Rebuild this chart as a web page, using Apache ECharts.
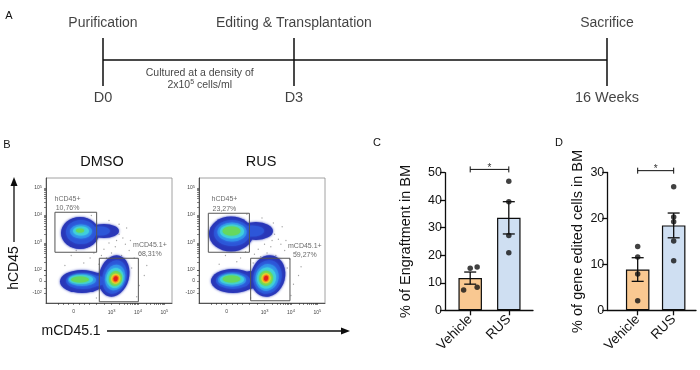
<!DOCTYPE html>
<html><head><meta charset="utf-8">
<script src="https://cdn.jsdelivr.net/npm/echarts@6/dist/echarts.min.js"></script>
<style>html,body{margin:0;padding:0;background:#fff}#c{width:700px;height:370px}</style>
</head><body><div id="c"></div>
<script>
// ---------- Panel A: timeline ----------
const timelineEvents = ['Purification', 'Editing & Transplantation', 'Sacrifice'];
const timelinePoints = ['D0', 'D3', '16 Weeks'];
const timelinePos = [0, 3, 7.92];          // schematic positions along the line
const cultureNoteLine1 = 'Cultured at a density of';
const cultureNoteBase = '2x10', cultureNoteExp = '5', cultureNoteUnit = ' cells/ml';

// ---------- Panel B: flow cytometry ----------
const flowConditions = ['DMSO', 'RUS'];
const flowXAxisTitle = 'mCD45.1';
const flowYAxisTitle = 'hCD45';
const flowXTickLabels = ['0', '10^3', '10^4', '10^5'];
const flowXTickPos = [22, 52, 73, 94];
const flowYTickLabels = ['-10^2', '0', '10^2', '10^3', '10^4', '10^5'];
const flowYTickPos = [8, 17.8, 26.4, 48.2, 70.4, 92];
const gateNames = ['hCD45+', 'mCD45.1+'];
const dmsoGatePct = ['10,76%', '68,31%'];
const rusGatePct = ['23,27%', '59,27%'];
// gates: [x1, y1, x2, y2] in plot units
const dmsoGates = [[7.1, 40.6, 40.2, 72.6], [42.3, 1.0, 73.3, 35.8]];
const rusGates = [[7.4, 40.6, 40.0, 71.8], [41.0, 1.8, 72.2, 35.8]];
const dmsoGateLabelPos = [[17.1, 79.4], [82.5, 42.6]];
const rusGateLabelPos = [[20.2, 79.0], [84.0, 41.8]];
// density contours: [cx, cy, rx, ry, rotationDeg, level]
const dmsoDensity = [
  [27.0,56.0,15.1,12.8,0,0],[46.0,57.6,11.9,5.6,0,0],[27.8,56.8,11.9,9.6,0,1],[42.9,57.6,7.9,3.6,0,1],
  [27.8,57.2,8.7,5.6,0,2],[27.8,57.6,6.3,3.6,0,3],[27.0,58.0,3.2,1.6,0,4],
  [28.6,17.2,17.5,9.2,0,0],[41.3,17.6,7.9,6.4,0,0],[29.4,17.6,13.5,6.4,0,1],[40.5,17.6,6.3,4.0,0,1],
  [28.6,18.4,11.1,4.8,0,2],[27.8,18.8,9.5,3.6,0,3],[27.0,18.8,7.1,2.4,0,4],
  [54.0,21.6,11.9,16.8,-15,0],[54.4,20.8,9.5,13.6,-15,1],[54.8,20.4,7.9,10.4,-15,2],[54.8,20.0,6.7,8.0,-15,3],
  [55.2,19.6,5.2,6.0,-15,4],[55.3,19.4,3.6,4.0,-15,5],[55.3,19.4,2.4,2.8,-15,6],[55.3,19.4,1.6,2.0,-15,7]
];
const rusDensity = [
  [25.4,55.2,17.5,14.0,0,0],[45.2,57.6,13.5,7.2,0,0],[26.2,56.0,14.3,10.4,0,1],[42.1,57.6,9.5,4.4,0,1],
  [26.2,56.8,11.5,7.6,0,2],[26.2,57.2,9.5,5.6,0,3],[25.8,57.6,7.1,3.6,0,4],
  [27.0,17.6,17.5,9.6,0,0],[40.5,18.4,6.3,7.2,0,0],[27.0,18.0,13.5,6.8,0,1],
  [26.2,18.4,11.1,5.2,0,2],[26.2,18.8,9.5,4.0,0,3],[25.8,19.2,7.1,2.8,0,4],
  [54.8,21.6,13.5,16.8,-15,0],[54.4,20.8,11.1,13.6,-15,1],[54.0,20.4,9.1,10.8,-15,2],[53.6,20.0,7.5,8.4,-15,3],
  [53.2,19.8,5.6,6.0,-15,4],[53.2,19.8,3.6,4.0,-15,5],[53.2,19.8,2.4,2.8,-15,6],[53.2,19.8,1.6,2.0,-15,7]
];
const dmsoEvents = [[58,55],[61,52],[50,48],[46,43],[55,45],[63,47],[52,40],[66,42],[60,38],[70,36],[48,36],[44,38],
  [38,40],[35,36],[20,38],[24,42],[30,32],[15,30],[68,28],[74,14],[78,22],[72,5],[40,4],[64,60],[58,63],[50,66],
  [36,70],[45,27],[42,31],[62,33],[80,30],[76,40],[56,50],[67,50]];
const rusEvents = [[60,55],[63,51],[52,47],[47,43],[57,45],[65,47],[54,40],[68,42],[61,38],[72,35],[49,37],[44,39],
  [37,41],[33,36],[21,38],[26,43],[30,33],[16,31],[70,28],[75,15],[79,22],[73,6],[41,4],[66,61],[59,64],[50,68],
  [38,71],[46,28],[43,32],[63,33],[81,29],[77,41],[58,50],[69,50]];

// ---------- Panels C & D ----------
const groups = ['Vehicle', 'RUS'];
const engraftTitle = '% of Engraftment in BM';
const engraftVehicle = [15.3, 15.7, 7.4, 8.4];
const engraftVehicleJitter = [0, 0.18, -0.17, 0.18];
const engraftRUS = [46.9, 39.4, 27.2, 20.9];
const engraftRUSJitter = [0, 0, 0, 0];
const engraftMax = 50;
const engraftSigY = 51.2;
const editedTitle = '% of gene edited cells in BM';
const editedVehicle = [13.9, 11.6, 7.9, 2.1];
const editedVehicleJitter = [0, 0, 0, 0];
const editedRUS = [26.9, 20.3, 19.3, 15.1, 10.8];
const editedRUSJitter = [0, 0, 0, 0, 0];
const editedMax = 30;
const editedSigY = 30.4;
const sigMark = '*';
const panelLetters = ['A', 'B', 'C', 'D'];

// ---------- styling ----------
const FONT = '"Liberation Sans", Arial, Helvetica, sans-serif';
const INK = '#0d0d0d';
const TXT = '#111';
const densityColors = ['#2a37b8', '#2d56d8', '#3290ea', '#3fcfe0', '#66d85e', '#e6e22e', '#f7931e', '#e3201b'];
const barColors = ['#F9C891', '#CFDFF2'];

const mean = a => a.reduce((s, v) => s + v, 0) / a.length;
const sem = a => { const m = mean(a); return Math.sqrt(a.reduce((s, v) => s + (v - m) * (v - m), 0) / (a.length - 1) / a.length); };

function supFmt(str) {
  const i = str.indexOf('^');
  return i < 0 ? str : str.slice(0, i) + '{s|' + str.slice(i + 1) + '}';
}
function logTicks(majors) {
  const out = majors.slice();
  for (let i = 0; i + 1 < majors.length; i++) {
    const a = majors[i], b = majors[i + 1];
    for (let k = 2; k <= 9; k++) out.push(a + (b - a) * Math.log10(k));
  }
  return out;
}

const chart = echarts.init(document.getElementById('c'), null, { renderer: 'canvas', width: 700, height: 370 });

function flowAxes(gridIndex) {
  const xMaj = flowXTickPos.slice(1);
  const yMaj = flowYTickPos.slice(2);
  return {
    x: {
      type: 'value', gridIndex, min: 0, max: 100,
      axisLine: { show: true, onZero: false, lineStyle: { color: '#333', width: 0.8 } },
      axisTick: { show: true, length: 2, customValues: logTicks(xMaj).concat([10, 14, 18, 22, 26, 30, 34, 40, 46]), lineStyle: { color: '#333', width: 0.6 } },
      axisLabel: {
        show: true, customValues: flowXTickPos, margin: 6, fontSize: 5, color: '#444', fontFamily: FONT,
        formatter: v => supFmt(flowXTickLabels[flowXTickPos.indexOf(v)] || ''),
        rich: { s: { fontSize: 4, color: '#444', padding: [0, 0, 3, 0] } }
      },
      splitLine: { show: false }
    },
    y: {
      type: 'value', gridIndex, min: 0, max: 100,
      axisLine: { show: true, onZero: false, lineStyle: { color: '#333', width: 0.8 } },
      axisTick: { show: true, length: 2, customValues: logTicks(yMaj).concat([8, 12, 17.8, 22, 26.4]), lineStyle: { color: '#333', width: 0.6 } },
      axisLabel: {
        show: true, customValues: flowYTickPos, margin: 4, fontSize: 5, color: '#444', fontFamily: FONT,
        formatter: v => supFmt(flowYTickLabels[flowYTickPos.indexOf(v)] || ''),
        rich: { s: { fontSize: 4, color: '#444', padding: [0, 0, 3, 0] } }
      },
      splitLine: { show: false }
    }
  };
}

function renderEllipse(params, api) {
  const c = api.coord([api.value(0), api.value(1)]);
  const s = api.size([api.value(2), api.value(3)]);
  const col = densityColors[api.value(5)];
  return {
    type: 'circle', shape: { cx: 0, cy: 0, r: 1 },
    x: c[0], y: c[1], scaleX: s[0], scaleY: s[1],
    rotation: api.value(4) * Math.PI / 180,
    style: { fill: col, shadowBlur: 2.5, shadowColor: col }
  };
}

function flowSeries(idx, density, events, gates, labelPos, pct) {
  const sorted = density.slice().sort((a, b) => a[5] - b[5]);
  return [
    { type: 'custom', xAxisIndex: idx, yAxisIndex: idx, z: 2, data: sorted, renderItem: renderEllipse, silent: true, clip: true },
    {
      type: 'scatter', xAxisIndex: idx, yAxisIndex: idx, z: 1, data: events, symbolSize: 1.3,
      itemStyle: { color: '#8c8c8c' }, silent: true,
      markArea: {
        silent: true, z: 5,
        itemStyle: { color: 'rgba(0,0,0,0)', borderColor: '#555', borderWidth: 1 },
        data: gates.map(g => [{ coord: [g[0], g[1]] }, { coord: [g[2], g[3]] }])
      }
    },
    {
      type: 'scatter', xAxisIndex: idx, yAxisIndex: idx, z: 6, symbolSize: 0, silent: true,
      data: labelPos.map((p, i) => ({ value: p, name: gateNames[i] + '\n' + pct[i] })),
      label: { show: true, position: 'inside', formatter: p => p.name, fontSize: 7, lineHeight: 9.5, color: '#444', fontFamily: FONT, align: 'center' }
    }
  ];
}

function barAxes(gridIndex, xmin, xmax, ymax, title, nameGap) {
  return {
    x: {
      type: 'value', gridIndex, min: xmin, max: xmax,
      axisLine: { show: true, onZero: false, lineStyle: { color: INK, width: 1.3 } },
      axisTick: { show: true, customValues: [1, 2], length: 5, lineStyle: { color: INK, width: 1.3 } },
      axisLabel: { show: true, customValues: [1, 2], formatter: v => groups[Math.round(v) - 1], rotate: 45, margin: 7, fontSize: 13.5, color: TXT, fontFamily: FONT },
      splitLine: { show: false }
    },
    y: {
      type: 'value', gridIndex, min: 0, max: ymax, interval: 10,
      name: title, nameLocation: 'middle', nameGap, nameRotate: 90, nameMoveOverlap: false,
      nameTextStyle: { fontSize: 14.5, color: TXT, fontFamily: FONT },
      axisLine: { show: true, onZero: false, lineStyle: { color: INK, width: 1.3 } },
      axisTick: { show: true, length: 5, lineStyle: { color: INK, width: 1.3 } },
      axisLabel: { show: true, margin: 3, fontSize: 12.5, color: TXT, fontFamily: FONT },
      splitLine: { show: false }
    }
  };
}

function renderErr(params, api) {
  const x = api.value(0), lo = api.value(1), hi = api.value(2);
  const p1 = api.coord([x, lo]), p2 = api.coord([x, hi]);
  const cap = 6, st = { stroke: INK, lineWidth: 1.3 };
  return {
    type: 'group', children: [
      { type: 'line', shape: { x1: p1[0], y1: p1[1], x2: p2[0], y2: p2[1] }, style: st },
      { type: 'line', shape: { x1: p1[0] - cap, y1: p1[1], x2: p1[0] + cap, y2: p1[1] }, style: st },
      { type: 'line', shape: { x1: p2[0] - cap, y1: p2[1], x2: p2[0] + cap, y2: p2[1] }, style: st }
    ]
  };
}
function renderSig(params, api) {
  const p1 = api.coord([api.value(0), api.value(2)]), p2 = api.coord([api.value(1), api.value(2)]);
  const st = { stroke: INK, lineWidth: 1 };
  return {
    type: 'group', children: [
      { type: 'line', shape: { x1: p1[0], y1: p1[1], x2: p2[0], y2: p2[1] }, style: st },
      { type: 'line', shape: { x1: p1[0], y1: p1[1] - 3, x2: p1[0], y2: p1[1] + 3 }, style: st },
      { type: 'line', shape: { x1: p2[0], y1: p2[1] - 3, x2: p2[0], y2: p2[1] + 3 }, style: st },
      { type: 'text', x: (p1[0] + p2[0]) / 2, y: p1[1] - 1, style: { text: sigMark, fontSize: 10, fontFamily: FONT, fill: '#333', textAlign: 'center', textVerticalAlign: 'middle' } }
    ]
  };
}

function barSeries(idx, vehicle, vJit, rus, rJit, sigY) {
  const sets = [vehicle, rus];
  const jit = [vJit, rJit];
  const dots = [];
  sets.forEach((s, g) => s.forEach((v, i) => dots.push([g + 1 + jit[g][i], v])));
  return [
    {
      type: 'bar', xAxisIndex: idx, yAxisIndex: idx, barWidth: 23.5, z: 2, silent: true,
      data: sets.map((s, g) => ({ value: [g + 1, mean(s)], itemStyle: { color: barColors[g], borderColor: INK, borderWidth: 1.2 } }))
    },
    {
      type: 'custom', xAxisIndex: idx, yAxisIndex: idx, z: 3, silent: true, renderItem: renderErr,
      encode: { x: 0, y: [1, 2] },
      data: sets.map((s, g) => [g + 1, mean(s) - sem(s), mean(s) + sem(s)])
    },
    { type: 'scatter', xAxisIndex: idx, yAxisIndex: idx, z: 4, silent: true, symbolSize: 5.5, itemStyle: { color: '#111' }, data: dots },
    {
      type: 'custom', xAxisIndex: idx, yAxisIndex: idx, z: 4, silent: true, clip: false, renderItem: renderSig,
      encode: { x: [0, 1], y: 2 }, data: [[1, 2, sigY]]
    }
  ];
}

const fa1 = flowAxes(1), fa2 = flowAxes(2);
const ba3 = barAxes(3, 0.347, 2.627, engraftMax, engraftTitle, 32);
const ba4 = barAxes(4, 0.156, 2.62, editedMax, editedTitle, 22);

const timelineY = 0.542;
const txt = (t, x, y, size, extra) => Object.assign({ type: 'text', x, y, style: { text: t, fontSize: size, fontFamily: FONT, fill: TXT, textAlign: 'center', textVerticalAlign: 'middle' } }, extra || {});

const option = {
  animation: false,
  backgroundColor: '#fff',
  textStyle: { fontFamily: FONT },
  grid: [
    { left: 103, top: 38, width: 504, height: 48 },
    { left: 46, top: 178, width: 126, height: 125, show: true, borderColor: '#8a8a8a', borderWidth: 0.8 },
    { left: 199, top: 178, width: 126, height: 125, show: true, borderColor: '#8a8a8a', borderWidth: 0.8 },
    { left: 445, top: 172.7, width: 88, height: 137.6 },
    { left: 607.3, top: 172.5, width: 88.7, height: 137.8 }
  ],
  xAxis: [
    { type: 'value', gridIndex: 0, min: 0, max: timelinePos[2], show: false },
    fa1.x, fa2.x, ba3.x, ba4.x
  ],
  yAxis: [
    { type: 'value', gridIndex: 0, min: 0, max: 1, show: false },
    fa1.y, fa2.y, ba3.y, ba4.y
  ],
  series: [
    {
      type: 'line', xAxisIndex: 0, yAxisIndex: 0, symbol: 'none', silent: true,
      data: [[timelinePos[0], timelineY], [timelinePos[2], timelineY]],
      lineStyle: { color: INK, width: 1.3 },
      markLine: {
        silent: true, symbol: ['none', 'none'], label: { show: false },
        lineStyle: { color: INK, width: 1.5, type: 'solid' },
        data: timelinePos.map(x => ({ xAxis: x }))
      }
    },
    {
      type: 'scatter', xAxisIndex: 0, yAxisIndex: 0, symbolSize: 0, silent: true,
      data: timelinePos.map((x, i) => ({ value: [x, 1], name: timelineEvents[i] })),
      label: { show: true, position: 'top', distance: 8, formatter: p => p.name, fontSize: 14, color: TXT, fontFamily: FONT }
    },
    {
      type: 'scatter', xAxisIndex: 0, yAxisIndex: 0, symbolSize: 0, silent: true,
      data: timelinePos.map((x, i) => ({ value: [x, 0], name: timelinePoints[i] })),
      label: { show: true, position: 'bottom', distance: 4, formatter: p => p.name, fontSize: 14.5, color: TXT, fontFamily: FONT }
    },
    {
      type: 'scatter', xAxisIndex: 0, yAxisIndex: 0, symbolSize: 0, silent: true,
      data: [[(timelinePos[0] + timelinePos[1]) / 2 + 0.02, timelineY]],
      label: {
        show: true, position: 'bottom', distance: 7, align: 'center',
        formatter: '{n|' + cultureNoteLine1 + '}\n{n|' + cultureNoteBase + '}{s|' + cultureNoteExp + '}{n|' + cultureNoteUnit + '}',
        rich: {
          n: { fontSize: 10.5, lineHeight: 12, color: TXT, fontFamily: FONT },
          s: { fontSize: 7, lineHeight: 12, color: TXT, fontFamily: FONT, padding: [0, 0, 5, 0] }
        }
      }
    },
    ...flowSeries(1, dmsoDensity, dmsoEvents, dmsoGates, dmsoGateLabelPos, dmsoGatePct),
    ...flowSeries(2, rusDensity, rusEvents, rusGates, rusGateLabelPos, rusGatePct),
    ...barSeries(3, engraftVehicle, engraftVehicleJitter, engraftRUS, engraftRUSJitter, engraftSigY),
    ...barSeries(4, editedVehicle, editedVehicleJitter, editedRUS, editedRUSJitter, editedSigY)
  ],
  graphic: [
    txt(panelLetters[0], 9, 16, 11),
    txt(panelLetters[1], 7, 145, 11),
    txt(panelLetters[2], 377, 143, 11),
    txt(panelLetters[3], 559, 143, 11),
    txt(flowConditions[0], 102, 162, 14.5),
    txt(flowConditions[1], 261, 162, 14.5),
    { type: 'line', shape: { x1: 14, y1: 242, x2: 14, y2: 184 }, style: { stroke: INK, lineWidth: 1.3 } },
    { type: 'polygon', shape: { points: [[14, 177], [10.5, 186], [17.5, 186]] }, style: { fill: INK } },
    txt(flowYAxisTitle, 14, 268, 14, { rotation: Math.PI / 2 }),
    { type: 'text', x: 41.5, y: 331, style: { text: flowXAxisTitle, fontSize: 14, fontFamily: FONT, fill: TXT, textAlign: 'left', textVerticalAlign: 'middle' } },
    { type: 'line', shape: { x1: 107, y1: 331, x2: 343, y2: 331 }, style: { stroke: INK, lineWidth: 1.3 } },
    { type: 'polygon', shape: { points: [[350, 331], [341, 327.5], [341, 334.5]] }, style: { fill: INK } }
  ]
};
chart.setOption(option);
</script>
</body></html>
